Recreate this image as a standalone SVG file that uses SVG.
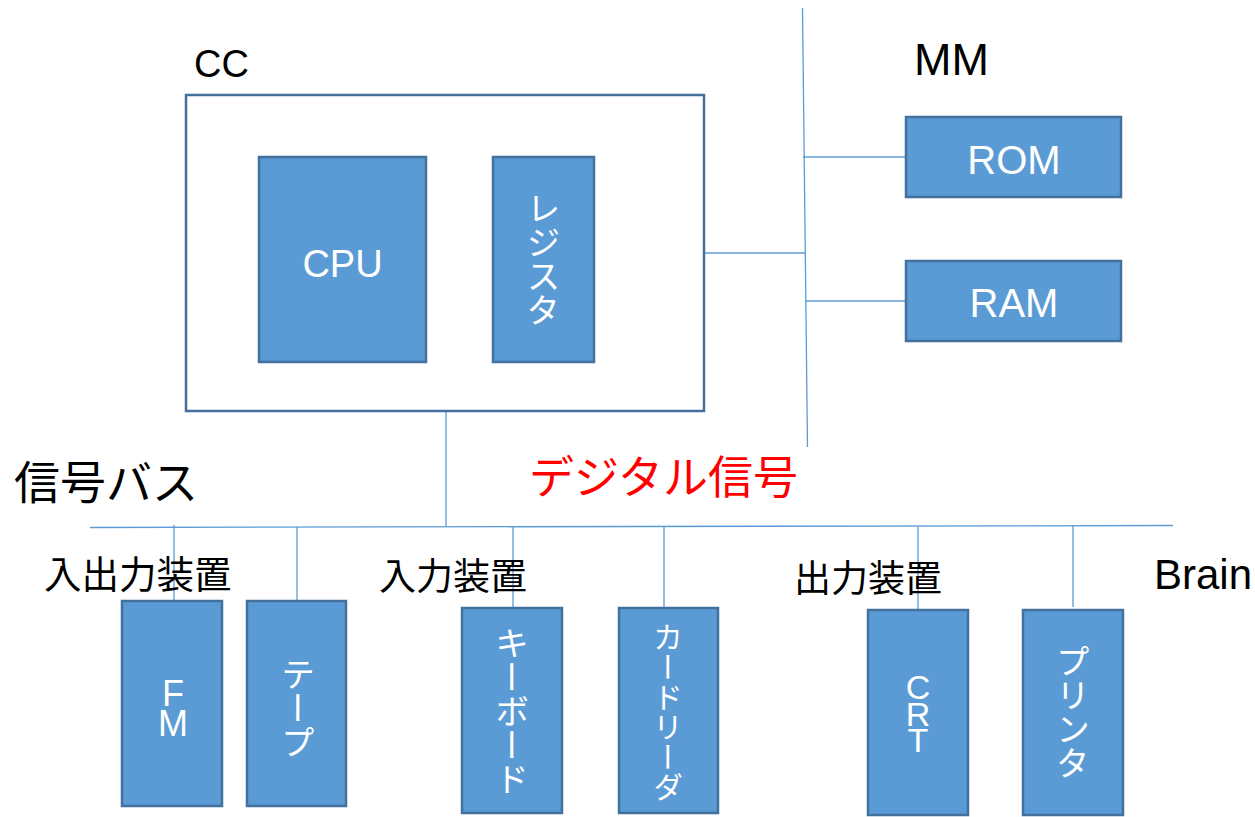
<svg xmlns="http://www.w3.org/2000/svg" width="1255" height="817" viewBox="0 0 1255 817">
<style>
.box{fill:#5B9BD5;stroke:#41719C;stroke-width:2.5}
.frame{fill:#FFFFFF;stroke:#41719C;stroke-width:2.5}
.ln{stroke:#5B9BD5;stroke-width:1.3;fill:none}
.lat{font-family:"Liberation Sans","Noto Sans CJK JP",sans-serif}
.jp{font-family:"Noto Sans CJK JP",sans-serif}
.w{fill:#FFFFFF}
.k{fill:#000000}
.vt{writing-mode:vertical-rl;text-anchor:middle;font-family:"Noto Sans CJK JP",sans-serif;fill:#FFFFFF}
.up{writing-mode:vertical-rl;text-orientation:upright;text-anchor:middle;font-family:"Liberation Sans",sans-serif;fill:#FFFFFF}
</style>
<rect width="1255" height="817" fill="#FFFFFF"/>
<g id="connectors">
<line class="ln" x1="802.5" y1="8" x2="807.5" y2="447"/>
<line class="ln" x1="704" y1="253" x2="805" y2="253"/>
<line class="ln" x1="803" y1="157" x2="906" y2="157"/>
<line class="ln" x1="805" y1="301" x2="906" y2="301"/>
<line class="ln" x1="446" y1="411" x2="446" y2="527"/>
<line class="ln" x1="90" y1="527.5" x2="1173" y2="525.5"/>
<line class="ln" x1="174" y1="525" x2="174" y2="601"/>
<line class="ln" x1="297" y1="527" x2="297" y2="601"/>
<line class="ln" x1="513" y1="527" x2="513" y2="608"/>
<line class="ln" x1="664" y1="527" x2="664" y2="608"/>
<line class="ln" x1="918" y1="527" x2="918" y2="610"/>
<line class="ln" x1="1073" y1="525" x2="1073" y2="607"/>
</g>
<g id="cc">
<rect class="frame" x="186" y="95" width="518" height="316"/>
<text class="lat k" x="194" y="77" font-size="38">CC</text>
</g>
<g id="cpu">
<rect class="box" x="259" y="157" width="167" height="205"/>
<text class="lat w" x="342.5" y="277" font-size="38" text-anchor="middle">CPU</text>
</g>
<g id="register">
<rect class="box" x="493" y="157" width="101" height="205"/>
<text class="vt" x="543.5" y="259.5" font-size="34">レジスタ</text>
</g>
<g id="mm">
<text class="lat k" x="914" y="75" font-size="45">MM</text>
</g>
<g id="rom">
<rect class="box" x="906" y="117" width="215" height="80"/>
<text class="lat w" x="1014" y="174" font-size="40" text-anchor="middle">ROM</text>
</g>
<g id="ram">
<rect class="box" x="906" y="261" width="215" height="80"/>
<text class="lat w" x="1014" y="317" font-size="40" text-anchor="middle">RAM</text>
</g>
<g id="labels">
<text class="jp k" x="14" y="499" font-size="46">信号バス</text>
<text class="jp" x="529" y="494" font-size="45" fill="#FF0000">デジタル信号</text>
<text class="jp k" x="44" y="588" font-size="37.5">入出力装置</text>
<text class="jp k" x="379" y="590" font-size="37">入力装置</text>
<text class="jp k" x="794" y="592" font-size="37">出力装置</text>
<text class="lat k" x="1154" y="589" font-size="42">Brain</text>
</g>
<g id="fm">
<rect class="box" x="122" y="601" width="100" height="205"/>
<text class="up" x="173" y="703" font-size="36" letter-spacing="-11">FM</text>
</g>
<g id="tape">
<rect class="box" x="247" y="601" width="99" height="205"/>
<text class="vt" x="298" y="708" font-size="34">テープ</text>
</g>
<g id="keyboard">
<rect class="box" x="462" y="608" width="100" height="205"/>
<text class="vt" x="512" y="711" font-size="34">キーボード</text>
</g>
<g id="cardreader">
<rect class="box" x="619" y="608" width="99" height="205"/>
<text class="vt" x="668" y="712" font-size="30">カードリーダ</text>
</g>
<g id="crt">
<rect class="box" x="868" y="610" width="100" height="205"/>
<text class="up" x="918" y="708" font-size="34" letter-spacing="-11.5">CRT</text>
</g>
<g id="printer">
<rect class="box" x="1023" y="610" width="100" height="205"/>
<text class="vt" x="1073" y="712" font-size="34">プリンタ</text>
</g>
</svg>
